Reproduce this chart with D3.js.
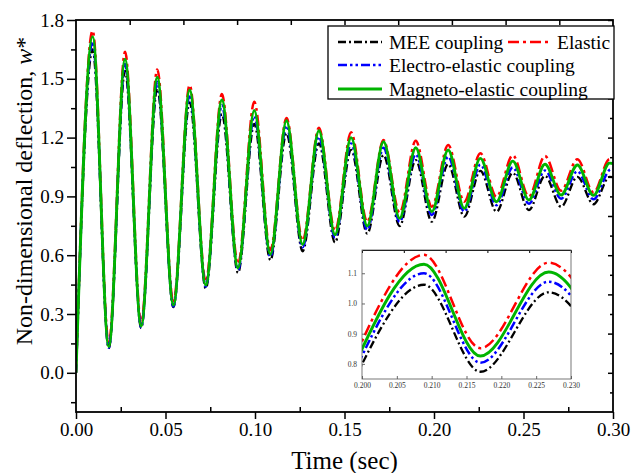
<!DOCTYPE html>
<html><head><meta charset="utf-8">
<script src="https://cdn.jsdelivr.net/npm/d3@7"></script>
<style>body{margin:0;background:#fff}svg{display:block}text{font-family:"Liberation Serif","Times New Roman",serif}</style>
</head><body><svg id="c" width="632" height="473"></svg>
<script>
// ---------- data ----------
const time = [0, 0.0093, 0.0183, 0.0274, 0.0364, 0.0454, 0.0544, 0.0635, 0.0725, 0.0815, 0.0905,
  0.0996, 0.1086, 0.1176, 0.1266, 0.1357, 0.1447, 0.1537, 0.1627, 0.1718, 0.1808, 0.1898, 0.1988,
  0.2079, 0.2169, 0.2259, 0.2349, 0.2440, 0.2530, 0.2620, 0.2710, 0.2801, 0.2891, 0.2981, 0.30];
const mee = [0, 1.65, 0.125, 1.54, 0.228, 1.45, 0.335, 1.38, 0.43, 1.32, 0.51, 1.27, 0.575, 1.222, 0.62,
  1.171, 0.665, 1.137, 0.71, 1.11, 0.749, 1.085, 0.771, 1.065, 0.797, 1.03, 0.822, 1.02, 0.83, 1.005, 0.847,
  1.0, 0.86, 1.0, 0.998];
const elastic = [0, 1.745, 0.15, 1.638, 0.255, 1.548, 0.36, 1.468, 0.465, 1.422, 0.555, 1.383, 0.625, 1.30, 0.675,
  1.25, 0.725, 1.227, 0.77, 1.188, 0.817, 1.184, 0.847, 1.162, 0.873, 1.12, 0.898, 1.11, 0.90, 1.106, 0.929,
  1.09, 0.92, 1.09, 1.088];
const electro = [0, 1.69, 0.128, 1.575, 0.232, 1.485, 0.338, 1.42, 0.44, 1.365, 0.525, 1.31, 0.592, 1.26, 0.64,
  1.205, 0.69, 1.17, 0.73, 1.148, 0.77, 1.115, 0.805, 1.103, 0.822, 1.062, 0.855, 1.048, 0.862, 1.032, 0.888,
  1.028, 0.885, 1.035, 1.04];
const magneto = [0, 1.715, 0.133, 1.60, 0.239, 1.508, 0.346, 1.443, 0.448, 1.392, 0.535, 1.338, 0.605, 1.286, 0.655,
  1.235, 0.705, 1.20, 0.749, 1.179, 0.788, 1.148, 0.822, 1.137, 0.839, 1.094, 0.873, 1.08, 0.882, 1.064, 0.907,
  1.06, 0.905, 1.07, 1.068];

// inset (zoom of 0.200 - 0.230)
const insetTime = [0.1991, 0.2089, 0.2170, 0.2268, 0.2348];
const insetMee = [0.757, 1.062, 0.774, 1.037, 0.818];
const insetElastic = [0.829, 1.161, 0.852, 1.135, 0.903];
const insetElectro = [0.783, 1.100, 0.804, 1.072, 0.848];
const insetMagneto = [0.805, 1.130, 0.826, 1.104, 0.853];

const seriesNames = ["MEE coupling", "Elastic", "Electro-elastic coupling", "Magneto-elastic coupling"];
const xTicks = [0, 0.05, 0.10, 0.15, 0.20, 0.25, 0.30];
const yTicks = [0.0, 0.3, 0.6, 0.9, 1.2, 1.5, 1.8];
const insetXTicks = [0.200, 0.205, 0.210, 0.215, 0.220, 0.225, 0.230];
const insetYTicks = [0.8, 0.9, 1.0, 1.1];

// ---------- styles ----------
const styles = [
  {color: "#000", dash: "8,3,2,3", width: 2.3},
  {color: "#ff0000", dash: "11,4,3,4", width: 2.5},
  {color: "#0000ff", dash: "9,3,2.5,3,2.5,3", width: 2.5},
  {color: "#00b400", dash: null, width: 2.9}
];
const SERIF = "Liberation Serif";

const svg = d3.select("#c");
const L = 76, R = 613, T = 20, B = 412;
const x = d3.scaleLinear().domain([0, 0.3]).range([L, R]);
const y = d3.scaleLinear().domain([-0.2, 1.8]).range([B, T]);

svg.append("defs").append("clipPath").attr("id", "clipMain")
  .append("rect").attr("x", L).attr("y", T).attr("width", R - L).attr("height", B - T);

const mainSeries = [mee, elastic, electro, magneto];
const line = d3.line().curve(d3.curveMonotoneX);
const gLines = svg.append("g").attr("clip-path", "url(#clipMain)");
mainSeries.forEach((vals, i) => {
  const s = styles[i];
  gLines.append("path")
    .attr("d", line.x((d, j) => x(time[j])).y(d => y(d))(vals))
    .attr("fill", "none").attr("stroke", s.color).attr("stroke-width", s.width)
    .attr("stroke-dasharray", s.dash).attr("stroke-linejoin", "round");
});

// ---------- axes ----------
const fontTick = 19;
const xAxis = d3.axisBottom(x).tickValues(xTicks).tickFormat(d3.format(".2f")).tickSize(7).tickPadding(4);
const gx = svg.append("g").attr("transform", `translate(0,${B})`).call(xAxis).attr("font-family", SERIF);
gx.selectAll("text").style("font-size", fontTick + "px").style("font-family", SERIF).attr("fill", "#000");
gx.select(".domain").remove();
const xMinor = d3.axisBottom(x).tickValues(d3.range(0.025, 0.3, 0.05)).tickFormat("").tickSize(-5);
svg.append("g").attr("transform", `translate(0,${B})`).call(xMinor).select(".domain").remove();

const yAxis = d3.axisLeft(y).tickValues(yTicks).tickFormat(d3.format(".1f")).tickSize(9).tickPadding(3);
const gy = svg.append("g").attr("transform", `translate(${L},0)`).call(yAxis).attr("font-family", SERIF);
gy.selectAll("text").style("font-size", fontTick + "px").style("font-family", SERIF).attr("fill", "#000");
gy.select(".domain").remove();
const yMinor = d3.axisLeft(y).tickValues(d3.range(-0.15, 1.8, 0.3)).tickFormat("").tickSize(5);
svg.append("g").attr("transform", `translate(${L},0)`).call(yMinor).select(".domain").remove();

// top axis (no labels, ticks inward)
const xTop = d3.scaleLinear().domain([0, 10]).range([L, R]);
svg.append("g").attr("transform", `translate(0,${T})`)
  .call(d3.axisTop(xTop).tickValues(d3.range(1, 10)).tickFormat("").tickSize(-5)).select(".domain").remove();
// right axis
svg.append("g").attr("transform", `translate(${R},0)`)
  .call(d3.axisRight(y).tickValues(d3.range(0, 1.81, 0.2)).tickFormat("").tickSize(-5)).select(".domain").remove();
svg.append("g").attr("transform", `translate(${R},0)`)
  .call(d3.axisRight(y).tickValues(d3.range(-0.1, 1.8, 0.2)).tickFormat("").tickSize(-3)).select(".domain").remove();

svg.selectAll(".tick line").attr("stroke", "#000").attr("stroke-width", 1.5);

svg.append("rect").attr("x", L).attr("y", T).attr("width", R - L).attr("height", B - T)
  .attr("fill", "none").attr("stroke", "#000").attr("stroke-width", 1.8);

// axis titles
svg.append("text").attr("x", (L + R) / 2).attr("y", 469).attr("text-anchor", "middle")
  .style("font-size", "25px").text("Time (sec)");
const yt = svg.append("text").attr("transform", `translate(32,191) rotate(-90)`)
  .attr("text-anchor", "middle").style("font-size", "24px");
yt.append("tspan").text("Non-dimensional deflection, ");
yt.append("tspan").style("font-style", "italic").text("w");
yt.append("tspan").text("*");

// ---------- legend ----------
const lg = svg.append("g");
lg.append("rect").attr("x", 328).attr("y", 26).attr("width", 286).attr("height", 73)
  .attr("fill", "#fff").attr("stroke", "#000").attr("stroke-width", 1.3);
const legendPos = [[338, 42], [508, 42], [338, 65], [338, 89]];
seriesNames.forEach((name, i) => {
  const [lx, ly] = legendPos[i];
  const s = styles[i];
  lg.append("line").attr("x1", lx).attr("x2", lx + 44).attr("y1", ly).attr("y2", ly)
    .attr("stroke", s.color).attr("stroke-width", s.width).attr("stroke-dasharray", s.dash);
  lg.append("text").attr("x", lx + (i === 1 ? 49 : 51)).attr("y", ly + 6.5)
    .style("font-size", "19.5px").text(name);
});

// ---------- inset ----------
const iL = 362, iR = 571, iT = 250, iB = 379;
const ix = d3.scaleLinear().domain([0.200, 0.230]).range([iL, iR]);
const iy = d3.scaleLinear().domain([0.75, 1.177]).range([iB, iT]);
svg.append("rect").attr("x", iL).attr("y", iT).attr("width", iR - iL).attr("height", iB - iT).attr("fill", "#fff");
svg.select("defs").append("clipPath").attr("id", "clipInset")
  .append("rect").attr("x", iL).attr("y", iT).attr("width", iR - iL).attr("height", iB - iT);
const gi = svg.append("g").attr("clip-path", "url(#clipInset)");
[insetMee, insetElastic, insetElectro, insetMagneto].forEach((vals, i) => {
  const s = styles[i];
  gi.append("path")
    .attr("d", d3.line().curve(d3.curveMonotoneX).x((d, j) => ix(insetTime[j])).y(d => iy(d))(vals))
    .attr("fill", "none").attr("stroke", s.color).attr("stroke-width", s.width)
    .attr("stroke-dasharray", s.dash);
});
const gix = svg.append("g").attr("transform", `translate(0,${iB})`)
  .call(d3.axisBottom(ix).tickValues(insetXTicks).tickFormat(d3.format(".3f")).tickSize(-3).tickPadding(4));
const giy = svg.append("g").attr("transform", `translate(${iL},0)`)
  .call(d3.axisLeft(iy).tickValues(insetYTicks).tickFormat(d3.format(".1f")).tickSize(-3).tickPadding(5));
svg.append("g").attr("transform", `translate(0,${iT})`)
  .call(d3.axisTop(d3.scaleLinear().domain([0, 5]).range([iL, iR])).tickValues([1, 2, 3, 4]).tickFormat("").tickSize(-3));
[gix, giy].forEach(g => {
  g.attr("font-family", SERIF);
  g.selectAll("text").style("font-size", "7.5px").style("font-family", SERIF).attr("fill", "#333");
  g.select(".domain").remove();
  g.selectAll(".tick line").attr("stroke", "#444").attr("stroke-width", 0.8);
});
svg.append("rect").attr("x", iL).attr("y", iT).attr("width", iR - iL).attr("height", iB - iT)
  .attr("fill", "none").attr("stroke", "#555").attr("stroke-width", 0.8);
</script></body></html>
